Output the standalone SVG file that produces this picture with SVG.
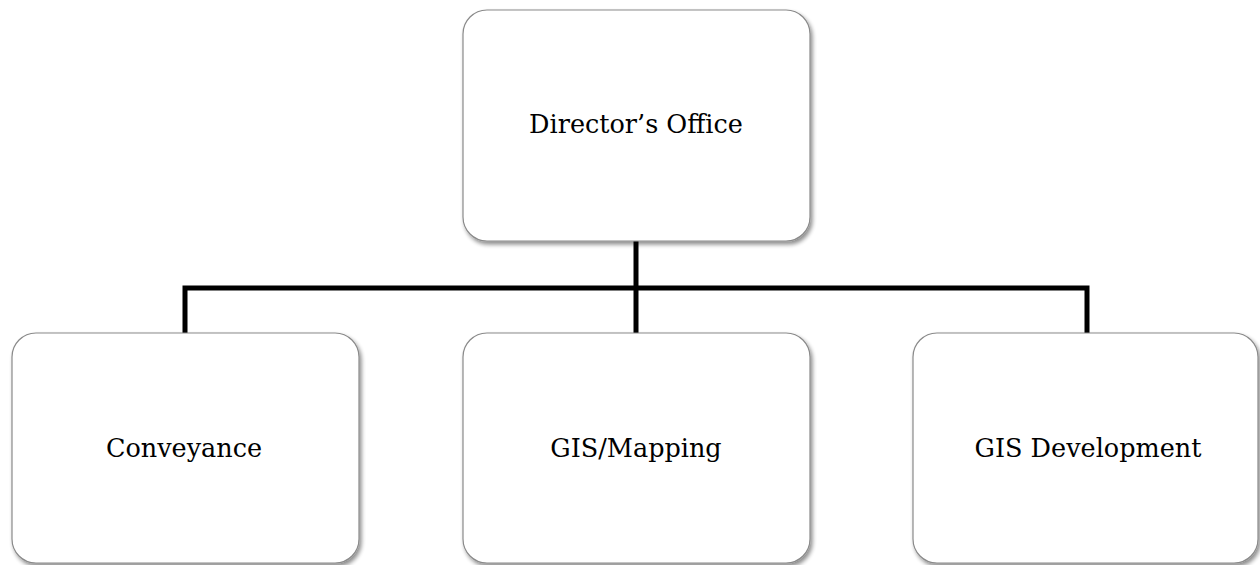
<svg xmlns="http://www.w3.org/2000/svg" width="1260" height="565" viewBox="0 0 1260 565">
  <style>
    .box { fill: #ffffff; stroke: #8a8a8a; stroke-width: 1.2; filter: url(#shadow); }
    .label { font-family: "DejaVu Serif", "Liberation Serif", serif; font-size: 25.5px; fill: #000000; text-anchor: middle; }
    .link { fill: none; stroke: #000000; stroke-width: 5; stroke-linejoin: miter; }
  </style>
  <defs>
    <filter id="shadow" x="-10%" y="-10%" width="125%" height="125%">
      <feGaussianBlur in="SourceAlpha" stdDeviation="2"/>
      <feOffset dx="1.5" dy="2.5" result="blur"/>
      <feComponentTransfer><feFuncA type="linear" slope="0.45"/></feComponentTransfer>
      <feMerge><feMergeNode/><feMergeNode in="SourceGraphic"/></feMerge>
    </filter>
  </defs>
  <rect width="1260" height="565" fill="#ffffff"/>

  <g id="connectors">
    <path class="link" d="M636 241 V333"/>
    <path class="link" d="M185 333 V288 H1087 V333"/>
  </g>

  <g id="directors-office">
    <rect class="box" x="463" y="10" width="347" height="231" rx="24"/>
    <text class="label" x="636" y="133">Director’s Office</text>
  </g>
  <g id="conveyance">
    <rect class="box" x="12" y="333" width="347" height="230" rx="24"/>
    <text class="label" x="184" y="457">Conveyance</text>
  </g>
  <g id="gis-mapping">
    <rect class="box" x="463" y="333" width="347" height="230" rx="24"/>
    <text class="label" x="636" y="457">GIS/Mapping</text>
  </g>
  <g id="gis-development">
    <rect class="box" x="913" y="333" width="345" height="230" rx="24"/>
    <text class="label" x="1088" y="457">GIS Development</text>
  </g>
</svg>
